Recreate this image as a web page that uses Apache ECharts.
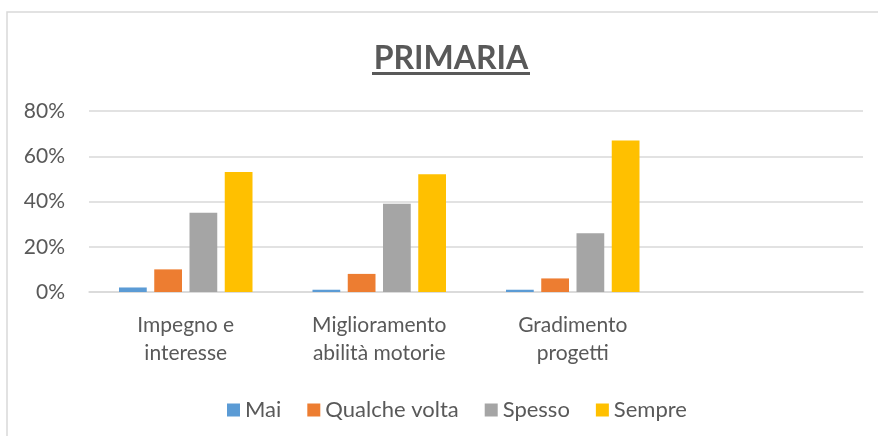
<!DOCTYPE html>
<html>
<head>
<meta charset="utf-8">
<script src="https://cdn.jsdelivr.net/npm/echarts@6/dist/echarts.min.js"></script>
<style>
  html, body { margin: 0; padding: 0; background: #fff; }
  #chart { width: 878px; height: 436px; }
</style>
</head>
<body>
<div id="chart"></div>
<script>
const categories = ['Impegno e\ninteresse', 'Miglioramento\nabilità motorie', 'Gradimento\nprogetti', '']
const mai = [2, 1, 1, null]
const qualcheVolta = [10, 8, 6, null]
const spesso = [35, 39, 26, null]
const sempre = [53, 52, 67, null]
const yTicks = [0, 20, 40, 60, 80]

const font = 'Lato, "Open Sans", sans-serif'
const chart = echarts.init(document.getElementById('chart'))

const bar = (name, data, color) => ({
  name,
  type: 'bar',
  data,
  barGap: '27%',
  barCategoryGap: '31%',
  itemStyle: { color }
})

chart.setOption({
  animation: false,
  textStyle: { fontFamily: font },
  graphic: [{
    type: 'rect',
    shape: { x: 7, y: 12, width: 900, height: 450 },
    style: { fill: 'none', stroke: '#d9d9d9', lineWidth: 1.5 },
    silent: true
  }, {
    type: 'text',
    x: 451,
    y: 43,
    style: {
      text: 'PRIMARIA',
      font: 'bold 32px ' + font,
      fill: '#595959',
      align: 'center'
    }
  }, {
    type: 'rect',
    shape: { x: 372, y: 72, width: 158, height: 3 },
    style: { fill: '#595959' }
  }],
  grid: { left: 89, right: 15, top: 111, bottom: 144 },
  legend: {
    left: 222,
    top: 394,
    itemWidth: 13,
    itemHeight: 13,
    itemGap: 26,
    icon: 'rect',
    textStyle: { color: '#595959', fontSize: 22, fontFamily: font },
    data: ['Mai', 'Qualche volta', 'Spesso', 'Sempre']
  },
  xAxis: {
    type: 'category',
    data: categories,
    axisLine: { lineStyle: { color: '#d9d9d9', width: 1.5 } },
    axisTick: { show: false },
    axisLabel: { color: '#595959', fontSize: 21, lineHeight: 28, margin: 19, interval: 0 }
  },
  yAxis: {
    type: 'value',
    min: yTicks[0],
    max: yTicks[yTicks.length - 1],
    interval: 20,
    axisLine: { show: false },
    axisTick: { show: false },
    splitLine: { lineStyle: { color: '#d9d9d9', width: 1.5 } },
    axisLabel: { color: '#595959', fontSize: 21, margin: 24, formatter: v => v + '%' }
  },
  series: [
    bar('Mai', mai, '#5b9bd5'),
    bar('Qualche volta', qualcheVolta, '#ed7d31'),
    bar('Spesso', spesso, '#a5a5a5'),
    bar('Sempre', sempre, '#ffc000')
  ]
})
</script>
</body>
</html>
